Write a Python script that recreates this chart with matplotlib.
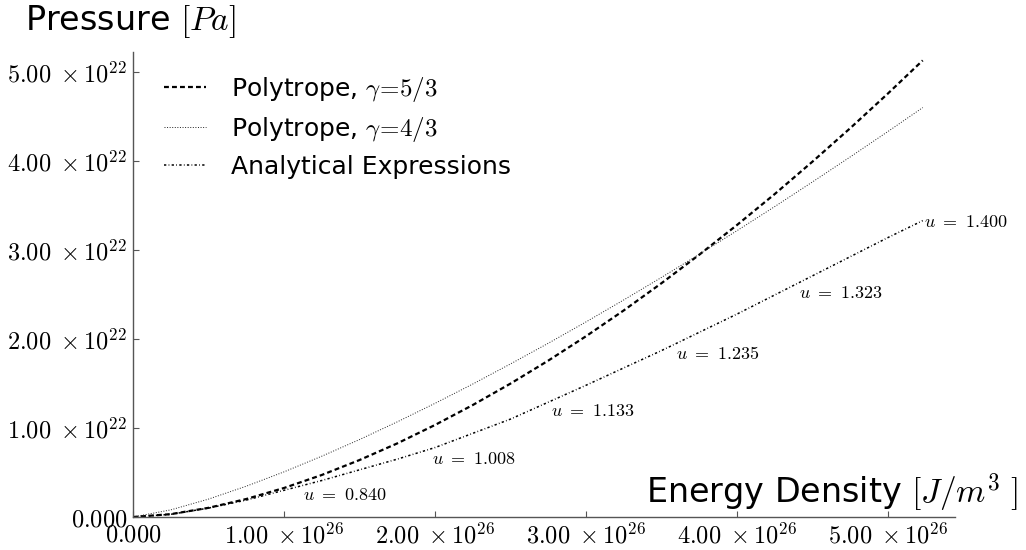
import numpy as np
import matplotlib
matplotlib.use('Agg')
import matplotlib.pyplot as plt
from matplotlib.ticker import FuncFormatter

plt.rcParams['font.family'] = ['DejaVu Sans']
plt.rcParams['mathtext.fontset'] = 'cm'

# energy density in units of 1e26 J/m^3, pressure in units of 1e22 Pa
x_poly = [0, 0.25, 0.5, 0.75, 1.0, 1.25, 1.5, 1.75, 2.0, 2.25, 2.5, 2.75, 3.0,
          3.25, 3.5, 3.75, 4.0, 4.25, 4.5, 4.75, 5.0, 5.23]
p_53 = [0, 0.032, 0.103, 0.202, 0.326, 0.472, 0.640, 0.827, 1.034, 1.258, 1.499,
        1.757, 2.031, 2.321, 2.627, 2.947, 3.281, 3.629, 3.993, 4.369, 4.759, 5.13]
p_43 = [0, 0.080, 0.201, 0.346, 0.507, 0.683, 0.870, 1.069, 1.277, 1.494, 1.720,
        1.952, 2.192, 2.439, 2.692, 2.952, 3.217, 3.488, 3.765, 4.046, 4.332, 4.60]

x_anal = [0, 0.25, 0.5, 0.75, 1.0, 1.25, 1.5, 1.75, 2.0, 2.5, 3.0, 3.5, 4.0, 4.5, 5.0, 5.23]
p_anal = [0, 0.03, 0.10, 0.19, 0.30, 0.41, 0.53, 0.65, 0.78, 1.10, 1.48, 1.87, 2.28, 2.71, 3.14, 3.33]

# u labels along the analytical curve
u_vals = ['0.840', '1.008', '1.133', '1.235', '1.323', '1.400']
u_x = [1.1, 1.95, 2.74, 3.57, 4.38, 5.23]
u_y = [0.34, 0.75, 1.29, 1.93, 2.61, 3.33]

fig = plt.figure(figsize=(10.26, 5.5), dpi=100)
ax = fig.add_axes([133/1026, 1-517/550, (955-133)/1026, (517-52)/550])

ax.plot(x_poly, p_53, ls=(0, (2.2, 1.4)), color='black', lw=1.6, label=r'Polytrope, $\gamma\!=\!5/3$')
ax.plot(x_poly, p_43, ls=':', color='#222222', lw=0.7, label=r'Polytrope, $\gamma\!=\!4/3$')
ax.plot(x_anal, p_anal, ls=(0, (1.5, 1.5, 0.5, 1.5)), color='black', lw=1.1,
        label='Analytical Expressions')

for i, (xx, yy, u) in enumerate(zip(u_x, u_y, u_vals)):
    if i == len(u_vals) - 1:
        off = (1, -1)
    else:
        off = (3, -6)
    ax.annotate(r'$u\ =\ %s$' % u, xy=(xx, yy), xytext=off, textcoords='offset points',
                fontsize=13, ha='left', va='center')

ax.set_xlim(0, (955-133)/151)
ax.set_ylim(0, (517-52)/89)

for s in ['top', 'right']:
    ax.spines[s].set_visible(False)
for s in ['left', 'bottom']:
    ax.spines[s].set_color('#555555')
    ax.spines[s].set_linewidth(1.0)

def fmt(v, exp):
    if abs(v) < 1e-9:
        return r'$0.000$'
    return r'$%.2f\;\times 10^{%d}$' % (v, exp)

ax.set_xticks([0, 1, 2, 3, 4, 5])
ax.set_yticks([0, 1, 2, 3, 4, 5])
ax.xaxis.set_major_formatter(FuncFormatter(lambda v, p: fmt(v, 26)))
ax.yaxis.set_major_formatter(FuncFormatter(lambda v, p: fmt(v, 22)))
ax.tick_params(direction='in', length=4, width=0.8, color='#555555', labelsize=17.5, pad=4)

fig.text(25/1026, 1-22/550, r'Pressure $[Pa]$', fontsize=24, ha='left', va='center')
fig.text(1018/1026, 1-493/550, r'Energy Density $[J/m^3\ ]$', fontsize=24, ha='right', va='center')

leg = ax.legend(loc='upper left', bbox_to_anchor=(0.01, 1.0), frameon=False, fontsize=18,
                handlelength=1.7, handletextpad=1.0, labelspacing=0.45)

fig.savefig('out.png', dpi=100)
